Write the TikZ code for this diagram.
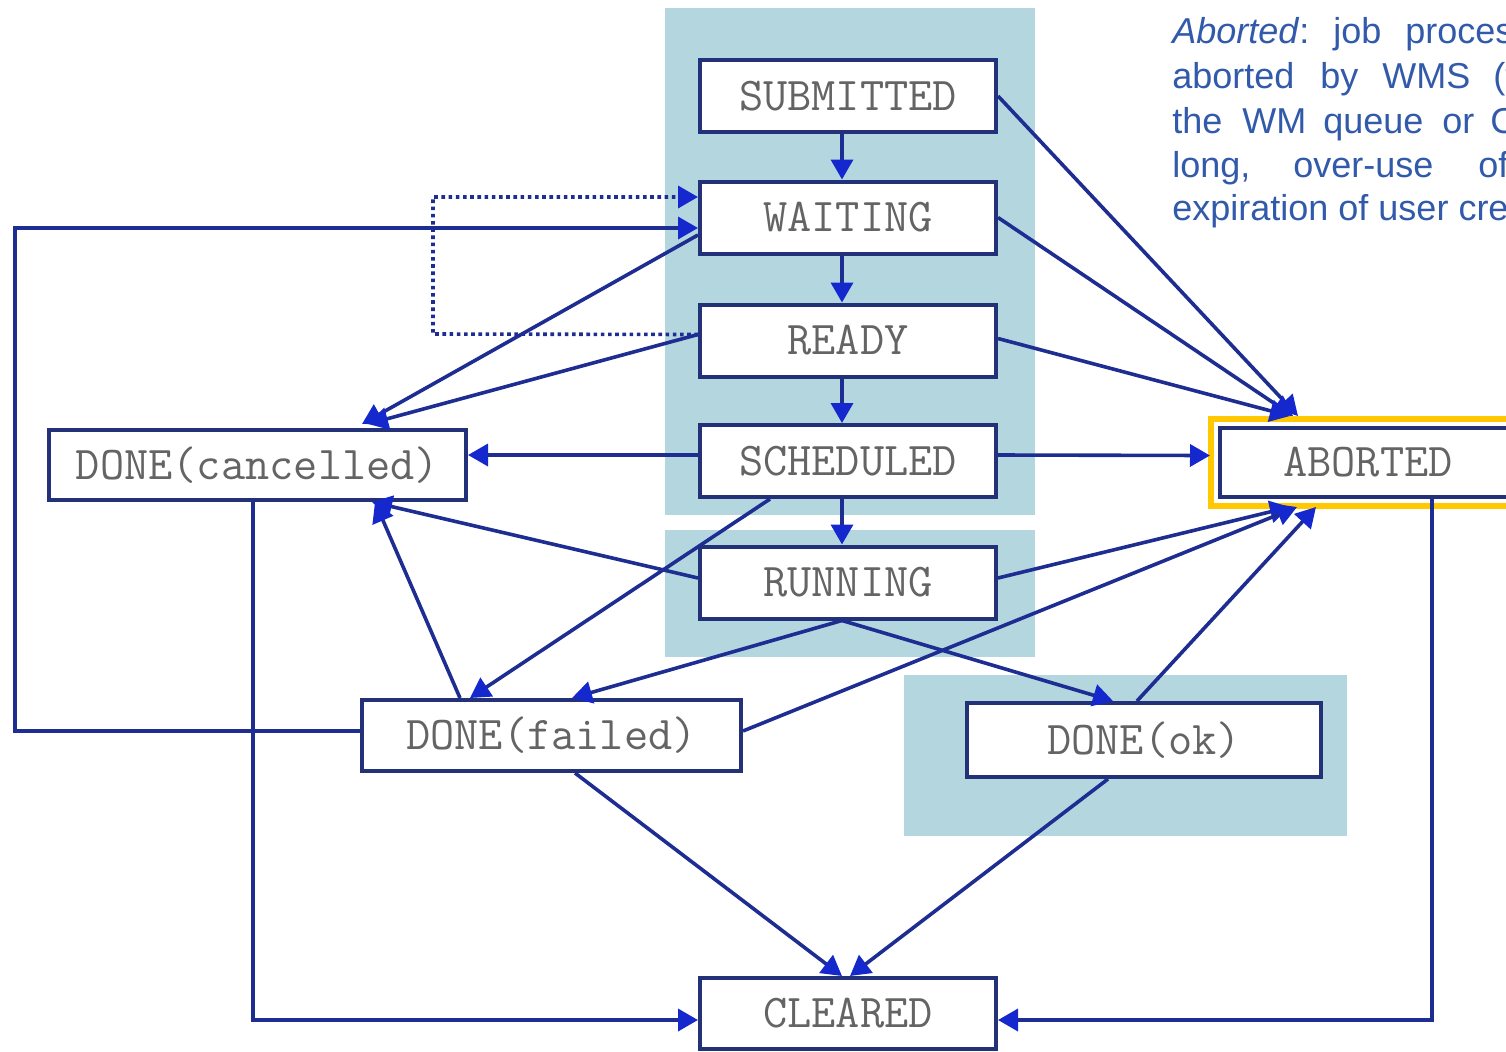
\documentclass[tikz,border=0pt]{standalone}
\usepackage{fontspec}
\setmainfont{Liberation Sans}
\usetikzlibrary{arrows.meta}
\definecolor{panel}{RGB}{180,215,223}
\definecolor{boxline}{RGB}{35,50,120}
\definecolor{wire}{RGB}{30,45,145}
\definecolor{tipblue}{RGB}{20,40,205}
\definecolor{label}{RGB}{100,100,100}
\definecolor{note}{RGB}{50,90,170}
\definecolor{gold}{RGB}{255,200,0}
\begin{document}
\begin{tikzpicture}[x=0.5pt,y=-0.5pt,
  state/.style={draw=boxline, line width=2pt, fill=white, minimum width=148pt,
    minimum height=36pt, inner sep=0pt, text=label,
    font=\fontsize{23.5pt}{23.5pt}\selectfont\ttfamily},
  link/.style={draw=wire, line width=1.8pt,
    -{Triangle[length=10pt,width=11pt,color=tipblue]}},
  dotlink/.style={link, dash pattern=on 1.8pt off 1.8pt},
  word/.style={anchor=base west, inner sep=0pt, text=note,
    font=\fontsize{18pt}{18pt}\selectfont}]
\useasboundingbox (0,0) rectangle (1506,1051);
\clip (0,0) rectangle (1506,1051);

% shaded groups
\fill[panel] (665,8) rectangle (1035,515);
\fill[panel] (665,530) rectangle (1035,657);
\fill[panel] (904,675) rectangle (1347,836);

% states
\node[state] (SUB)   at (848,96)    {SUBMITTED};
\node[state] (WAIT)  at (848,217.5) {WAITING};
\node[state] (READY) at (848,340.5) {READY};
\node[state] (SCHED) at (848,461)   {SCHEDULED};
\node[state] (RUN)   at (848,582.5) {RUNNING};
\node[state, minimum width=208.5pt, minimum height=35pt] (CANC) at (257.5,465) {DONE(cancelled)};
\node[state, minimum width=189.5pt, minimum height=35.5pt] (FAIL) at (551.5,735.5) {DONE(failed)};
\node[state, minimum width=177pt, minimum height=37pt] (OK) at (1144,740) {DONE(ok)};
\node[state, minimum height=34.5pt] (ABORT) at (1368,462.5) {ABORTED};
\node[state, minimum height=35.5pt] (CLEAR) at (848,1013.5) {CLEARED};
\draw[gold, line width=3pt] ([xshift=-3.5pt,yshift=3.5pt]ABORT.north west) rectangle ([xshift=3.5pt,yshift=-3.5pt]ABORT.south east);

% main chain
\draw[link] ([xshift=-3pt]SUB.south)   -- ([xshift=-3pt]WAIT.north);
\draw[link] ([xshift=-3pt]WAIT.south)  -- ([xshift=-3pt]READY.north);
\draw[link] ([xshift=-3pt]READY.south) -- ([xshift=-3pt]SCHED.north);
\draw[link] ([xshift=-3pt]SCHED.south) -- ([xshift=-3pt]RUN.north);

% to ABORTED
\draw[link] (SUB.east)   -- ([xshift=-35pt,yshift=5pt]ABORT.north);
\draw[link] (WAIT.east)  -- ([xshift=-37.5pt,yshift=5pt]ABORT.north);
\draw[link] ([yshift=1pt]READY.east) -- ([xshift=-39pt,yshift=5pt]ABORT.north);
\draw[link] ([yshift=3pt]SCHED.east) -- ([xshift=-4pt,yshift=3.5pt]ABORT.west);
\draw[link] ([yshift=2.25pt]RUN.east) -- ([xshift=-39pt,yshift=-4pt]ABORT.south);
\draw[link] ([yshift=2.25pt]FAIL.east) -- ([xshift=-35.5pt,yshift=-4pt]ABORT.south);
\draw[link] ([xshift=-3.5pt]OK.north) -- ([xshift=-26pt,yshift=-4pt]ABORT.south);

% to DONE(cancelled)
\draw[link] ([yshift=-8.75pt]WAIT.west) -- ([xshift=52.25pt,yshift=2pt]CANC.north);
\draw[link] ([yshift=3pt]READY.west) -- ([xshift=55.25pt,yshift=2pt]CANC.north);
\draw[link] ([yshift=3pt]SCHED.west) -- ([yshift=5pt]CANC.east);
\draw[link] ([yshift=2.25pt]RUN.west) -- ([xshift=57.25pt]CANC.south);
\draw[link] ([xshift=-45.75pt]FAIL.north) -- ([xshift=58.75pt]CANC.south);

% to DONE(failed) and DONE(ok)
\draw[link] ([xshift=-39pt]SCHED.south) -- ([xshift=-40.75pt]FAIL.north);
\draw[link] ([xshift=-3pt]RUN.south) -- ([xshift=10.25pt]FAIL.north);
\draw[link] ([xshift=-3pt]RUN.south) -- ([xshift=-15.5pt]OK.north);

% to CLEARED
\draw[link] ([xshift=11.75pt]FAIL.south) -- ([xshift=-3pt]CLEAR.north);
\draw[link] ([xshift=-18pt]OK.south) -- ([xshift=1pt]CLEAR.north);
\draw[link] ([xshift=-2.25pt]CANC.south) |- ([yshift=-3.25pt]CLEAR.west);
\draw[link] ([xshift=32pt]ABORT.south) |- ([yshift=-3.25pt]CLEAR.east);

% resubmission loops
\coordinate (loopL) at (15,731);
\coordinate (dotL) at (433,334);
\draw[link] ([yshift=2.25pt]FAIL.west) -- (loopL) |- ([yshift=-5.25pt]WAIT.west);
\draw[dotlink] ([yshift=3pt]READY.west) -- (dotL) |- ([yshift=10.25pt]WAIT.west);

% note on ABORTED
\node[word] (n1a) at (1172,43) {\textit{Aborted}:};
\node[word] (n1b) at (1333,43) {job};
\node[word] (n1c) at (1405,43) {processing};
\node[word] (n2a) at (1172,88) {aborted};
\node[word] (n2b) at (1320,88) {by};
\node[word] (n2c) at (1382,88) {WMS};
\node[word] (n2d) at (1493,88) {(too};
\node[word] (n3a) at (1172,133) {the};
\node[word] (n3b) at (1242,133) {WM};
\node[word] (n3c) at (1323,133) {queue};
\node[word] (n3d) at (1442,133) {or};
\node[word] (n3e) at (1490,133) {CE};
\node[word] (n4a) at (1172,177) {long,};
\node[word] (n4b) at (1293,177) {over-use};
\node[word] (n4c) at (1478,177) {of};
\node[word] (n5a) at (1172,220) {expiration of user credentials};
\end{tikzpicture}
\end{document}
